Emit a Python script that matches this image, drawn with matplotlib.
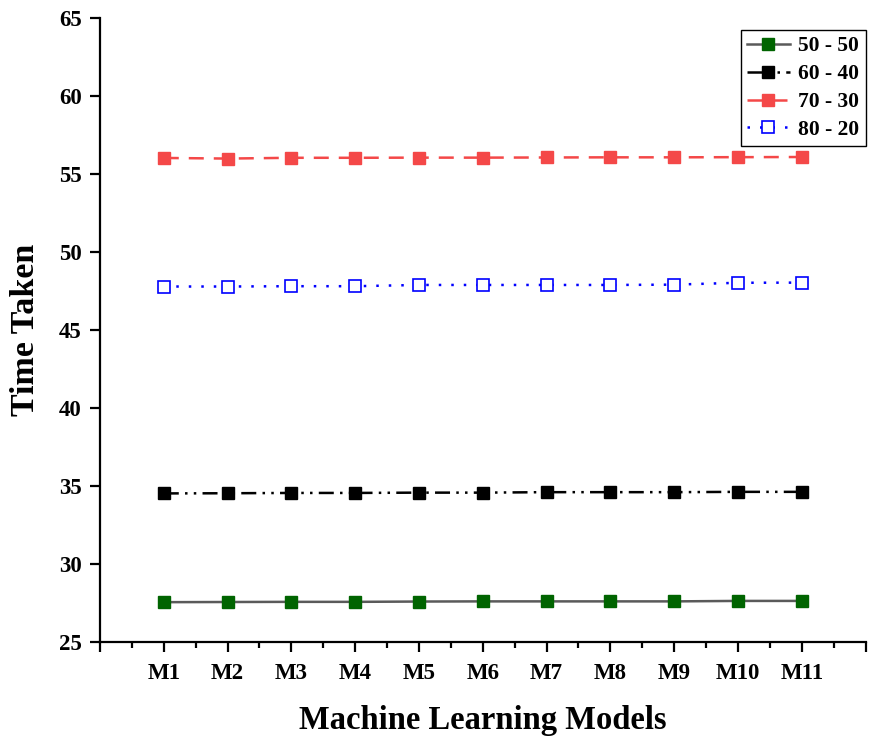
import matplotlib
matplotlib.use("Agg")
import matplotlib.pyplot as plt
from matplotlib.ticker import FixedLocator, MultipleLocator

plt.rcParams['font.family'] = ['Liberation Serif', 'DejaVu Serif']
plt.rcParams['font.weight'] = 'bold'

models = ["M1", "M2", "M3", "M4", "M5", "M6", "M7", "M8", "M9", "M10", "M11"]
split_50_50 = [27.55, 27.56, 27.57, 27.57, 27.59, 27.60, 27.60, 27.60, 27.60, 27.63, 27.63]
split_60_40 = [34.52, 34.53, 34.55, 34.55, 34.57, 34.57, 34.60, 34.60, 34.60, 34.62, 34.62]
split_70_30 = [56.02, 55.98, 56.03, 56.03, 56.04, 56.04, 56.05, 56.06, 56.06, 56.07, 56.08]
split_80_20 = [47.78, 47.78, 47.80, 47.80, 47.88, 47.88, 47.88, 47.88, 47.90, 48.02, 48.03]

fig = plt.figure(figsize=(8.77, 7.43), dpi=100)
ax = fig.add_axes([0.114, 0.136, 0.873, 0.840])

x = list(range(1, len(models) + 1))
ms = 8.8

ax.plot(x, split_50_50, color="#5a5a5a", lw=1.8, ls="-",
        marker="s", ms=ms, mfc="#006400", mec="#006400", label="50 - 50")
ax.plot(x, split_60_40, color="black", lw=1.8, ls=(0, (6, 2.5, 1, 2.5, 1, 2.5)),
        marker="s", ms=ms, mfc="black", mec="black", label="60 - 40")
ax.plot(x, split_70_30, color="#f44848", lw=1.8, ls=(0, (6, 4)),
        marker="s", ms=ms, mfc="#f44848", mec="#f44848", label="70 - 30")
ax.plot(x, split_80_20, color="#0000ff", lw=1.8, ls=(0, (1, 4)),
        marker="s", ms=ms, mfc="white", mec="#0000ff", mew=1.2, label="80 - 20")

ax.set_xlim(0, 12)
ax.set_ylim(25, 65)
ax.xaxis.set_major_locator(FixedLocator(range(0, 13)))
ax.set_xticklabels([""] + models + [""])
ax.xaxis.set_minor_locator(MultipleLocator(0.5))
ax.yaxis.set_major_locator(MultipleLocator(5))

for side in ("top", "right"):
    ax.spines[side].set_visible(False)
for side in ("left", "bottom"):
    ax.spines[side].set_linewidth(1.6)

ax.tick_params(axis="both", which="major", direction="out", length=7, width=1.6,
               labelsize=16.5, pad=6)
ax.tick_params(axis="x", which="major", pad=8)
ax.tick_params(axis="x", which="minor", direction="out", length=4, width=1.6)
for lab in ax.get_xticklabels() + ax.get_yticklabels():
    lab.set_fontweight("bold")

ax.set_xlabel("Machine Learning Models", fontsize=23.5, fontweight="bold", labelpad=15)
ax.set_ylabel("Time Taken", fontsize=24.5, fontweight="bold", labelpad=13)

leg = ax.legend(loc="upper right", bbox_to_anchor=(1.0, 0.98), fontsize=15.5,
                frameon=True, fancybox=False, edgecolor="black", framealpha=1,
                handlelength=2.0, borderpad=0.28, labelspacing=0.36, handletextpad=0.4,
                borderaxespad=0.0)
leg.get_frame().set_linewidth(1.0)
for t in leg.get_texts():
    t.set_fontweight("bold")

fig.savefig("out.png", dpi=100)
